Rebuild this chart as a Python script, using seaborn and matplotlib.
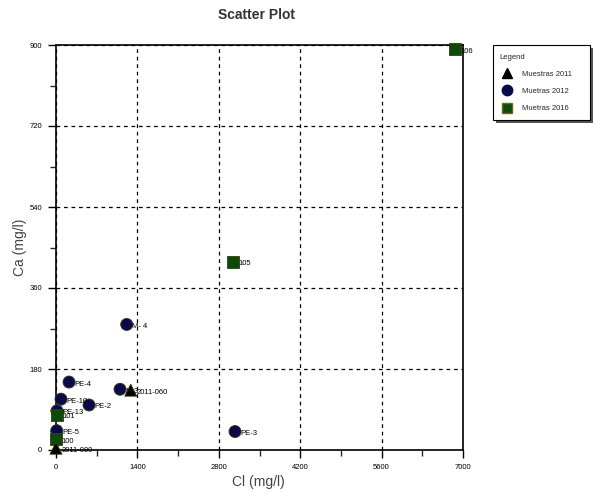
import numpy as np
import pandas as pd
import matplotlib
matplotlib.use("Agg")
import matplotlib.pyplot as plt
import seaborn as sns
from matplotlib.ticker import MultipleLocator
from matplotlib.lines import Line2D
from matplotlib.patches import Rectangle

# ---- data ----
series_2011 = "Muestras 2011"
series_2012 = "Muetras 2012"
series_2016 = "Muetras 2016"

cl_2011 = [1285, 0]
ca_2011 = [133, 4]
lab_2011 = ["2011-060", "2011-080"]

cl_2012 = [224, 86, 17, 568, 12, 1216, 1101, 3079]
ca_2012 = [151, 113, 87, 100, 43, 279, 135, 41]
lab_2012 = ["PE-4", "PE-10", "PE-13", "PE-2", "PE-5", "M- 4", "M-3", "PE-3"]

cl_2016 = [6863, 3044, 20, 5]
ca_2016 = [891, 418, 78, 24]
lab_2016 = ["106", "105", "101", "100"]

x_ticks = [0, 1400, 2800, 4200, 5600, 7000]
y_ticks = [0, 180, 360, 540, 720, 900]

df = pd.DataFrame({
    "Cl": cl_2012 + cl_2016 + cl_2011,
    "Ca": ca_2012 + ca_2016 + ca_2011,
    "label": lab_2012 + lab_2016 + lab_2011,
    "series": [series_2012] * len(cl_2012) + [series_2016] * len(cl_2016) + [series_2011] * len(cl_2011),
})

sns.set_style("white")
plt.rcParams["font.family"] = ["Liberation Sans", "DejaVu Sans"]

W, H = 593, 493
fig = plt.figure(figsize=(W / 100, H / 100), dpi=100)
ax = fig.add_axes([56 / W, 1 - 450 / H, (463 - 56) / W, (450 - 45) / H])

palette = {series_2011: "#000000", series_2012: "#0a0a4a", series_2016: "#0b4a0b"}
markers = {series_2011: "^", series_2012: "o", series_2016: "s"}
order = [series_2011, series_2012, series_2016]

sns.scatterplot(data=df, x="Cl", y="Ca", hue="series", style="series",
                hue_order=order, style_order=order, palette=palette, markers=markers,
                s=75, edgecolor="#3a3a10", linewidth=0.6, ax=ax, legend=False, zorder=3, clip_on=False)

for _, r in df.iterrows():
    ax.annotate(r["label"], (r["Cl"], r["Ca"]), xytext=(4, -2.5), textcoords="offset points",
                fontsize=5.5, color="#000000", zorder=4)

ax.set_xlim(0, 7000)
ax.set_ylim(0, 900)
ax.set_xticks(x_ticks)
ax.set_yticks(y_ticks)
ax.xaxis.set_minor_locator(MultipleLocator(700))
ax.yaxis.set_minor_locator(MultipleLocator(90))
ax.tick_params(axis="both", which="major", direction="out", length=6, width=1, labelsize=5.5,
               colors="black", bottom=True, left=True, pad=4)
ax.tick_params(axis="both", which="minor", direction="out", length=4, width=1, bottom=True, left=True)
ax.grid(True, which="major", linestyle=(0, (3, 3)), color="black", linewidth=0.9)
for sp in ax.spines.values():
    sp.set_color("black")
    sp.set_linewidth(1.2)

ax.set_xlabel("")
ax.set_ylabel("")
fig.text(258 / W, 1 - 482 / H, "Cl (mg/l)", ha="center", va="center", fontsize=10, color="#444444")
fig.text(20 / W, 1 - 247 / H, "Ca (mg/l)", ha="center", va="center", fontsize=10, color="#444444",
         rotation=90)
fig.text(257 / W, 1 - 15 / H, "Scatter Plot", ha="center", va="center", fontsize=10,
         fontweight="bold", color="#333333")

# legend frame with shadow
fig.patches.append(Rectangle((496 / W, 1 - 123 / H), 97 / W, 75 / H, transform=fig.transFigure,
                             facecolor="#555555", edgecolor="none", zorder=1))
fig.patches.append(Rectangle((493 / W, 1 - 120 / H), 97 / W, 75 / H, transform=fig.transFigure,
                             facecolor="white", edgecolor="black", linewidth=0.8, zorder=2))

handles = [
    Line2D([], [], marker="^", linestyle="none", color="black", markersize=7.5),
    Line2D([], [], marker="o", linestyle="none", color=palette[series_2012], markersize=7.5),
    Line2D([], [], marker="s", linestyle="none", color=palette[series_2016], markeredgecolor="#6a6a10", markersize=7.5),
]
leg = fig.legend(handles, order, title="Legend", loc="upper left",
                 bbox_to_anchor=(498 / W, 1 - 52 / H), fontsize=5.5, title_fontsize=5.5,
                 frameon=False, labelspacing=1.3, handletextpad=0.9, handlelength=2.0,
                 borderpad=0.2, borderaxespad=0)
leg._legend_box.align = "left"
leg.set_zorder(5)

fig.savefig("out.png", dpi=100)
